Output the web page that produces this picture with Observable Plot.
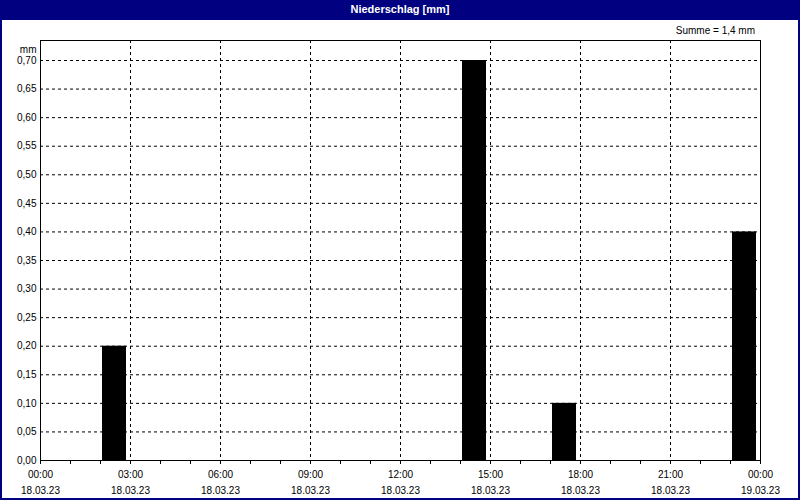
<!DOCTYPE html>
<html>
<head>
<meta charset="utf-8">
<script src="https://cdn.jsdelivr.net/npm/d3@7"></script>
<script src="https://cdn.jsdelivr.net/npm/@observablehq/plot@0.6"></script>
<style>
  html, body { margin: 0; padding: 0; background: #fff; }
  #wrap { position: relative; width: 800px; height: 500px; background: #fff; overflow: hidden; font-family: "Liberation Sans", Arial, sans-serif; }
  #title { position: absolute; left: 0; top: 0; width: 800px; height: 20px; background: #000080; color: #fff; font-weight: bold; font-size: 11px; line-height: 19px; text-align: center; }
  #border { position: absolute; left: 0; top: 0; width: 796px; height: 496px; border: 2px solid #000080; pointer-events: none; }
  #sum { position: absolute; right: 45px; top: 25px; font-size: 10px; color: #000; }
  #chart { position: absolute; left: 0; top: 20px; }
  #chart svg { display: block; }
</style>
</head>
<body>
<div id="wrap">
  <div id="title">Niederschlag [mm]</div>
  <div id="sum">Summe = 1,4 mm</div>
  <div id="chart"></div>
  <div id="border"></div>
</div>
<script>
// Data
const startTimes = ["2023-03-18T02:00Z", "2023-03-18T14:00Z", "2023-03-18T17:00Z", "2023-03-18T23:00Z"];
const amounts = [0.2, 0.7, 0.1, 0.4];
const yTicks = [0, 0.05, 0.10, 0.15, 0.20, 0.25, 0.30, 0.35, 0.40, 0.45, 0.50, 0.55, 0.60, 0.65, 0.70];
const xLabelTimes = ["2023-03-18T00:00Z", "2023-03-18T03:00Z", "2023-03-18T06:00Z", "2023-03-18T09:00Z", "2023-03-18T12:00Z", "2023-03-18T15:00Z", "2023-03-18T18:00Z", "2023-03-18T21:00Z", "2023-03-19T00:00Z"];
const domainStart = "2023-03-18T00:00Z";
const domainEnd = "2023-03-19T00:00Z";
const yMax = 0.735;

const rows = startTimes.map((t, i) => {
  const s = new Date(t);
  return { x1: s, x2: d3.utcHour.offset(s, 1), y: amounts[i] };
});
const labelDates = xLabelTimes.map(t => new Date(t));
const hourTicks = d3.utcHour.range(new Date(domainStart), d3.utcHour.offset(new Date(domainEnd), 1));
const innerGridX = labelDates.slice(1, -1);
const fmtY = d => d.toFixed(2).replace(".", ",");
const fmtX = d => d3.utcFormat("%H:%M")(d) + "\n" + d3.utcFormat("%d.%m.%y")(d);

const chart = Plot.plot({
  width: 800,
  height: 478,
  marginLeft: 40,
  marginRight: 40,
  marginTop: 20,
  marginBottom: 38,
  style: { fontFamily: "Liberation Sans, Arial, sans-serif", fontSize: "10px", color: "#000", background: "transparent" },
  x: { type: "utc", domain: [new Date(domainStart), new Date(domainEnd)] },
  y: { domain: [0, yMax] },
  marks: [
    Plot.gridY(yTicks.slice(1), { stroke: "#000", strokeOpacity: 1, strokeDasharray: "3,3" }),
    Plot.gridX(innerGridX, { stroke: "#000", strokeOpacity: 1, strokeDasharray: "3,3" }),
    Plot.rectY(rows, { x1: "x1", x2: "x2", y: "y", fill: "#000", insetLeft: 2, insetRight: 4 }),
    Plot.axisY(yTicks, { tickSize: 0, tickPadding: 4, tickFormat: fmtY, label: null }),
    Plot.axisX(hourTicks, { tickSize: 4, tickFormat: () => "", label: null, stroke: "#000" }),
    Plot.axisX(labelDates, { tickSize: 0, tickPadding: 6, tickFormat: fmtX, lineHeight: 1.6, label: null }),
    Plot.text(["mm"], { frameAnchor: "top-left", textAnchor: "end", dx: -4, dy: 5 }),
    Plot.frame({ stroke: "#000" })
  ]
});
document.getElementById("chart").appendChild(chart);
</script>
</body>
</html>
